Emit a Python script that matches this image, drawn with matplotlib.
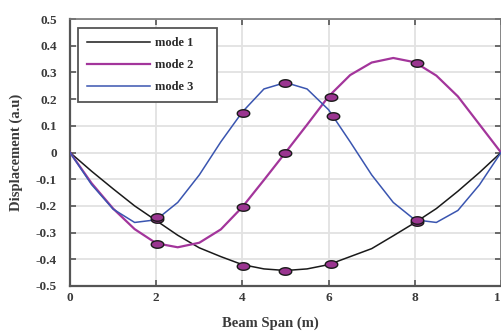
import matplotlib

matplotlib.use("Agg")
import matplotlib.pyplot as plt
import numpy as np
from matplotlib.path import Path

# Donnees
span = [0, 0.5, 1, 1.5, 2, 2.5, 3, 3.5, 4, 4.5, 5,
        5.5, 6, 6.5, 7, 7.5, 8, 8.5, 9, 9.5, 10]
mode1 = [0, -0.07, -0.136, -0.2, -0.255, -0.31, -0.357, -0.39, -0.42, -0.436, -0.442,
         -0.436, -0.42, -0.39, -0.36, -0.312, -0.263, -0.21, -0.145, -0.075, 0]
mode2 = [0, -0.115, -0.21, -0.287, -0.34, -0.355, -0.338, -0.288, -0.204, -0.103, 0,
         0.104, 0.21, 0.29, 0.337, 0.354, 0.338, 0.288, 0.21, 0.105, 0]
mode3 = [0, -0.12, -0.212, -0.262, -0.252, -0.187, -0.084, 0.04, 0.152, 0.238, 0.262,
         0.238, 0.16, 0.04, -0.084, -0.187, -0.252, -0.262, -0.217, -0.121, 0]

# points mesures (ellipses violettes)
pts_x12 = [2.03, 4.02, 5.0, 6.05, 8.05]
pts_x3 = [2.03, 4.02, 5.0, 6.1, 8.05]
pts_mode1 = [-0.25, -0.425, -0.443, -0.419, -0.261]
pts_mode2 = [-0.341, -0.205, -0.003, 0.206, 0.335]
pts_mode3 = [-0.24, 0.148, 0.261, 0.1375, -0.252]

xticks = [0, 2, 4, 6, 8, 10]
yticks = [-0.5, -0.4, -0.3, -0.2, -0.1, 0, 0.1, 0.2, 0.3, 0.4, 0.5]
ytick_labels = ["-0.5", "-0.4", "-0.3", "-0.2", "-0.1", "0",
                "0.1", "0.2", "0.3", "0.4", "0.5"]

plt.rcParams["font.family"] = ["Liberation Serif", "DejaVu Serif"]
plt.rcParams["font.weight"] = "bold"
txt_col = "#3a3a3a"

# marqueur elliptique
t = np.linspace(0, 2 * np.pi, 40)
ellipse = Path(np.column_stack([np.cos(t), 0.6 * np.sin(t)]), closed=True)

fig = plt.figure(figsize=(5.02, 3.33), dpi=100)
ax = fig.add_axes([70 / 502, 47 / 333, 431 / 502, 267 / 333])

ax.plot(span, mode1, color="#1a1a1a", lw=1.1, label="mode 1", zorder=3)
ax.plot(span, mode2, color="#a3359b", lw=1.6, label="mode 2", zorder=3)
ax.plot(span, mode3, color="#3a55b0", lw=1.1, label="mode 3", zorder=3)

for px, py in [(pts_x12, pts_mode1), (pts_x12, pts_mode2), (pts_x3, pts_mode3)]:
    ax.plot(px, py, ls="none", marker=ellipse, ms=9, mfc="#9a3590",
            mec="#1a1a1a", mew=1.0, zorder=4, clip_on=False)

ax.set_xlim(0, 10)
ax.set_ylim(-0.5, 0.5)
ax.set_xticks(xticks)
ax.set_yticks(yticks)
ax.set_yticklabels(ytick_labels)
ax.grid(True, color="#e2e2e2", lw=1.3, zorder=0)
ax.set_axisbelow(True)

ax.tick_params(direction="in", length=4, width=1.2, color="#555555",
               top=True, right=True, labelsize=9.5, labelcolor=txt_col)
ax.tick_params(axis="x", pad=4)
ax.tick_params(axis="y", pad=9.5)
for side in ["left", "bottom"]:
    ax.spines[side].set_color("#555555")
    ax.spines[side].set_linewidth(1.6)
for side in ["top", "right"]:
    ax.spines[side].set_color("#777777")
    ax.spines[side].set_linewidth(1.2)

ax.set_xlabel("Beam Span (m)", fontsize=10.5, fontweight="bold", color=txt_col)
ax.set_ylabel("Displacement (a.u)", fontsize=10.5, fontweight="bold", color=txt_col)
ax.xaxis.set_label_coords(0.464, -0.116)
ax.yaxis.set_label_coords(-0.11, 0.5)

leg = ax.legend(loc="upper left", bbox_to_anchor=(0.0186, 0.966, 0.3225, 0.0),
                mode="expand", borderaxespad=0, fancybox=False, framealpha=1,
                edgecolor="#555555", handlelength=5.0, handletextpad=0.4,
                labelspacing=0.78, borderpad=0.75, fontsize=9)
leg.get_frame().set_linewidth(1.3)
for text in leg.get_texts():
    text.set_color("#2a2a2a")

fig.savefig("out.png", dpi=100)
